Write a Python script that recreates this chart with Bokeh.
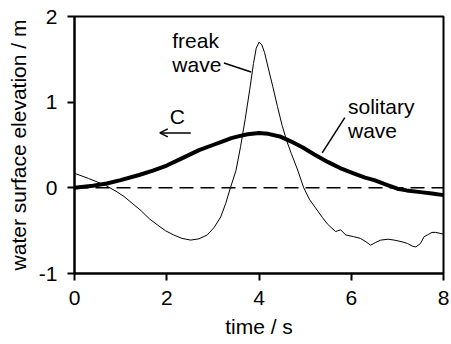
from bokeh.plotting import figure
from bokeh.models import Range1d, Arrow, OpenHead, ColumnDataSource, FixedTicker
from bokeh.core.properties import value
from bokeh.embed import file_html
from bokeh.resources import INLINE

# ---- data ----
freak_t = [0, 0.3, 0.67, 0.9, 1.07, 1.25, 1.45, 1.62, 1.79, 1.97, 2.15, 2.33, 2.52, 2.7,
           2.88, 3.03, 3.17, 3.28, 3.38, 3.5, 3.6, 3.7, 3.8, 3.88, 3.94, 4.0, 4.06, 4.12,
           4.2, 4.3, 4.4, 4.5, 4.6, 4.7, 4.83, 4.97, 5.1, 5.26, 5.38, 5.48, 5.66, 5.77,
           5.88, 6.05, 6.2, 6.32, 6.42, 6.52, 6.64, 6.8, 6.93, 7.1, 7.22, 7.32, 7.4, 7.5,
           7.58, 7.65, 7.75, 7.83, 8.0]
freak_v = [0.17, 0.11, 0.03, -0.04, -0.10, -0.18, -0.27, -0.36, -0.43, -0.50, -0.55, -0.59,
           -0.61, -0.595, -0.55, -0.46, -0.34, -0.18, 0.0, 0.20, 0.48, 0.80, 1.15, 1.45, 1.63,
           1.70, 1.67, 1.58, 1.40, 1.18, 0.95, 0.73, 0.55, 0.40, 0.22, 0.0, -0.14, -0.26,
           -0.35, -0.42, -0.51, -0.49, -0.55, -0.57, -0.59, -0.63, -0.67, -0.64, -0.61, -0.60,
           -0.61, -0.63, -0.65, -0.68, -0.69, -0.65, -0.57, -0.55, -0.52, -0.52, -0.54]

solitary_t = [0, 0.4, 0.7, 1.0, 1.4, 1.7, 2.0, 2.35, 2.7, 3.0, 3.2, 3.4, 3.55, 3.75, 4.0,
              4.2, 4.45, 4.7, 4.95, 5.2, 5.5, 5.8, 6.05, 6.3, 6.5, 6.8, 7.0, 7.2, 7.5, 7.75, 8.0]
solitary_v = [0, 0.025, 0.05, 0.09, 0.15, 0.20, 0.26, 0.35, 0.44, 0.50, 0.54, 0.58, 0.60,
              0.625, 0.64, 0.63, 0.60, 0.54, 0.47, 0.39, 0.30, 0.22, 0.17, 0.12, 0.09, 0.03,
              -0.01, -0.03, -0.05, -0.065, -0.085]

mean_t = [0, 8]
mean_v = [0, 0]

x_ticks = [0, 2, 4, 6, 8]
y_ticks = [-1, 0, 1, 2]
y_tick_labels = {-1: "-1", 0: "0", 1: "1", 2: "2"}

label_texts = ["freak", "wave", "solitary", "wave"]
label_x = [2.12, 2.12, 5.93, 5.93]
label_y = [1.716, 1.444, 0.947, 0.674]

FONT = "Liberation Sans"
FS = "21px"

p = figure(width=451, height=344, output_backend="svg", toolbar_location=None,
           x_range=Range1d(0, 8), y_range=Range1d(-1, 2),
           min_border_left=74, min_border_right=8, min_border_top=16, min_border_bottom=71)

p.xgrid.visible = False
p.ygrid.visible = False
p.outline_line_color = "black"
p.outline_line_width = 2
p.background_fill_color = "white"
p.border_fill_color = "white"

for ax in (p.xaxis[0], p.yaxis[0]):
    ax.axis_line_width = 2
    ax.axis_line_color = "black"
    ax.major_tick_line_width = 2
    ax.major_tick_line_color = "black"
    ax.major_tick_out = 7
    ax.major_tick_in = 0
    ax.minor_tick_out = 0
    ax.minor_tick_in = 0
    ax.major_label_text_font = FONT
    ax.major_label_text_font_size = FS
    ax.major_label_text_color = "black"
    ax.axis_label_text_font = FONT
    ax.axis_label_text_font_size = FS
    ax.axis_label_text_font_style = "normal"
    ax.axis_label_text_color = "black"

p.xaxis.ticker = FixedTicker(ticks=x_ticks)
p.yaxis.ticker = FixedTicker(ticks=y_ticks)
p.yaxis.major_label_overrides = y_tick_labels
p.xaxis.axis_label = "time / s"
p.yaxis.axis_label = "water surface elevation / m"
p.xaxis.major_label_standoff = 10
p.yaxis.major_label_standoff = 10
p.xaxis.axis_label_standoff = 7
p.yaxis.axis_label_standoff = 6

p.line(mean_t, mean_v, line_color="black", line_width=1.5, line_dash="14 7")
p.line(freak_t, freak_v, line_color="black", line_width=1, line_join="round")
p.line(solitary_t, solitary_v, line_color="black", line_width=4, line_join="round")

# leader lines
p.segment(x0=[3.24, 5.86], y0=[1.457, 0.82], x1=[3.83, 5.37], y1=[1.352, 0.408],
          line_color="black", line_width=1.5)

src = ColumnDataSource(dict(x=label_x, y=label_y, t=label_texts))
p.text(x="x", y="y", text="t", source=src, text_font=value(FONT), text_font_size=FS,
       text_align="left", text_baseline="alphabetic", text_color="black")

p.text(x=[2.23], y=[0.83], text=["C"], text_font=value(FONT), text_font_size=FS,
       text_align="center", text_baseline="alphabetic", text_color="black")

p.add_layout(Arrow(end=OpenHead(size=8, line_width=1.5, line_color="black"),
                   x_start=2.52, y_start=0.641, x_end=1.85, y_end=0.641,
                   line_width=1.5, line_color="black"))

open("out.html", "w").write(file_html(p, INLINE))
